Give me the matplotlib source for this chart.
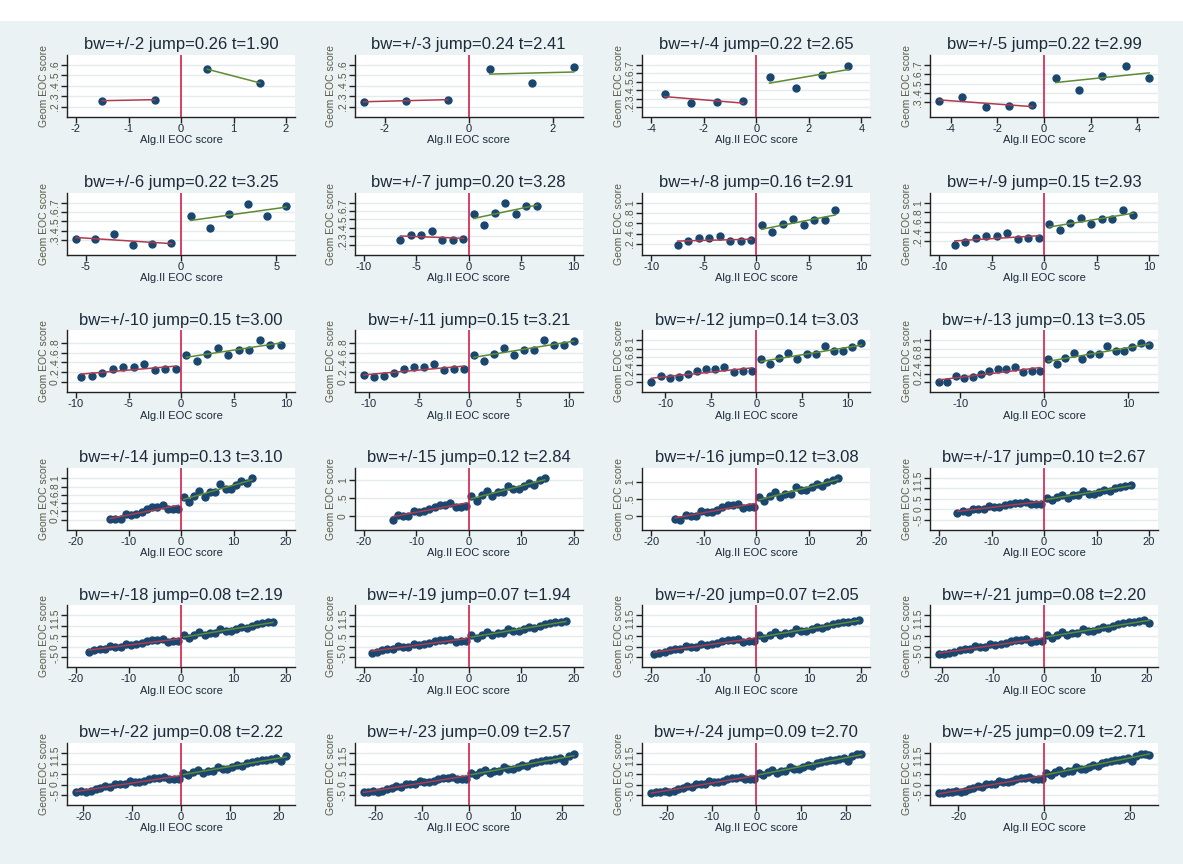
import matplotlib.pyplot as plt
from matplotlib.patches import Rectangle
import numpy as np

plt.rcParams['font.family'] = ['Liberation Sans', 'DejaVu Sans']

# bin midpoints of the running variable (distance from cutoff)
bins = np.arange(-24.5, 25, 1.0)
# mean Geom EOC score in each bin
geom = np.array([
    -0.42, -0.40, -0.38, -0.37, -0.33, -0.34, -0.29, -0.22, -0.16, -0.08,
    -0.11, 0.03, 0.01, 0.01, 0.15, 0.11, 0.13, 0.19, 0.26, 0.31,
    0.31, 0.36, 0.25, 0.26, 0.27,
    0.56, 0.43, 0.58, 0.69, 0.56, 0.66, 0.66, 0.85, 0.75, 0.75,
    0.84, 0.93, 0.88, 1.01, 1.07, 1.12, 1.17, 1.18, 1.22, 1.28,
    1.12, 1.35, 1.45, 1.47, 1.40,
])

bandwidths = list(range(2, 26))
jumps = [0.26, 0.24, 0.22, 0.22, 0.22, 0.20, 0.16, 0.15, 0.15, 0.15, 0.14, 0.13,
         0.13, 0.12, 0.12, 0.10, 0.08, 0.07, 0.07, 0.08, 0.08, 0.09, 0.09, 0.09]
tstats = [1.90, 2.41, 2.65, 2.99, 3.25, 3.28, 2.91, 2.93, 3.00, 3.21, 3.03, 3.05,
          3.10, 2.84, 3.08, 2.67, 2.19, 1.94, 2.05, 2.20, 2.22, 2.57, 2.70, 2.71]

xticks = [[-2, -1, 0, 1, 2], [-2, 0, 2], [-4, -2, 0, 2, 4], [-4, -2, 0, 2, 4],
          [-5, 0, 5], [-10, -5, 0, 5, 10], [-10, -5, 0, 5, 10], [-10, -5, 0, 5, 10],
          [-10, -5, 0, 5, 10], [-10, -5, 0, 5, 10], [-10, -5, 0, 5, 10], [-10, 0, 10]] + \
         [[-20, -10, 0, 10, 20]] * 8 + [[-20, -10, 0, 10, 20]] * 3 + [[-20, 0, 20]]

yticks = [[.2, .3, .4, .5, .6], [.2, .3, .4, .5, .6], [.2, .3, .4, .5, .6, .7],
          [.3, .4, .5, .6, .7], [.3, .4, .5, .6, .7], [.2, .3, .4, .5, .6, .7],
          [.2, .4, .6, .8, 1], [.2, .4, .6, .8, 1], [0, .2, .4, .6, .8],
          [0, .2, .4, .6, .8], [0, .2, .4, .6, .8, 1], [0, .2, .4, .6, .8, 1],
          [0, .2, .4, .6, .8, 1], [0, .5, 1], [0, .5, 1]] + [[-.5, 0, .5, 1, 1.5]] * 9

W, H = 1183, 864
bg = '#eaf2f3'
navy = '#1a476f'
txt = '#1c2a3a'


def stata_label(v):
    s = f'{v:g}'
    return s.replace('0.', '.') if s not in ('0',) else s


fig = plt.figure(figsize=(W / 100, H / 100), dpi=100)
fig.patch.set_facecolor(bg)
fig.patches.append(Rectangle((0, 1 - 21 / H), 1, 21 / H, transform=fig.transFigure,
                             facecolor='white', edgecolor='none', zorder=0))

bw_px, bh_px = 228, 62
for k, bw in enumerate(bandwidths):
    r, c = divmod(k, 4)
    left = 67 + 287.7 * c
    top = 55 + 137.6 * r
    ax = fig.add_axes([left / W, 1 - (top + bh_px) / H, bw_px / W, bh_px / H])
    ax.set_facecolor('white')

    m = np.abs(bins) < bw
    xs, ys = bins[m], geom[m]
    ax.plot(xs, ys, 'o', color=navy, ms=5, mec=navy, zorder=2)
    for side, col in ((xs < 0, '#b03a4e'), (xs > 0, '#5f8a32')):
        b1, b0 = np.polyfit(xs[side], ys[side], 1)
        xx = np.array([xs[side].min(), xs[side].max()])
        ax.plot(xx, b0 + b1 * xx, color=col, lw=1.1, zorder=3)
    ax.axvline(0, color='#d41f4c', lw=1.2, zorder=4)

    xt, yt = xticks[k], yticks[k]
    xlo, xhi = min(xt[0], xs.min()), max(xt[-1], xs.max())
    xpad = (xhi - xlo) * 9 / (bw_px - 18)
    ax.set_xlim(xlo - xpad, xhi + xpad)
    ylo, yhi = min(yt[0], ys.min()), max(yt[-1], ys.max())
    ypad = (yhi - ylo) * 10 / (bh_px - 20)
    ax.set_ylim(ylo - ypad, yhi + ypad)

    ax.set_xticks(xt)
    ax.set_xticklabels([f'{v:g}' for v in xt])
    ax.set_yticks(yt)
    ax.set_yticklabels([stata_label(v) for v in yt], rotation=90, va='center')
    ax.yaxis.grid(True, color='#e3ebec', lw=1)
    ax.set_axisbelow(True)

    for s in ('top', 'right'):
        ax.spines[s].set_visible(False)
    for s in ('left', 'bottom'):
        ax.spines[s].set_color('#222222')
        ax.spines[s].set_linewidth(1)
    ax.tick_params(axis='x', length=4, width=1, labelsize=8, pad=1, colors='#222222',
                   labelcolor=txt)
    ax.tick_params(axis='y', length=4, width=1, labelsize=7.5, pad=1, colors='#222222',
                   labelcolor='#5c5a48')

    ax.set_title(f'bw=+/-{bw} jump={jumps[k]:.2f} t={tstats[k]:.2f}',
                 fontsize=12, color=txt, pad=4)
    ax.set_xlabel('Alg.II EOC score', fontsize=8, color=txt, labelpad=1)
    ax.set_ylabel('Geom EOC score', fontsize=7.5, color='#5c5a48', labelpad=1)

fig.savefig('out.png', dpi=100, facecolor=fig.get_facecolor())
